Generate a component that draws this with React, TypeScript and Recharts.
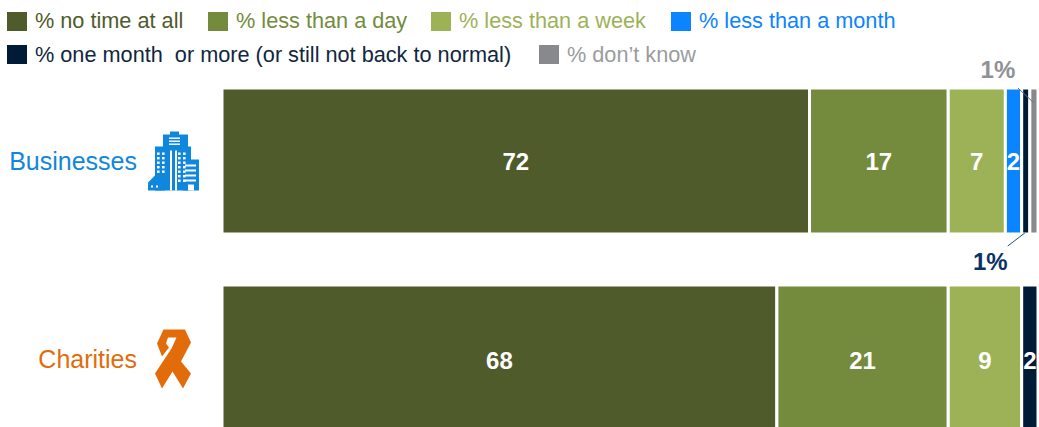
import React from 'react';
import { BarChart, Bar, XAxis, YAxis, LabelList, Legend } from 'recharts';

const categories = ['Businesses', 'Charities'];
const noTime = [72, 68];
const lessDay = [17, 21];
const lessWeek = [7, 9];
const lessMonth = [2, 0];
const oneMonth = [1, 2];
const dontKnow = [1, 0];

const seriesNames = [
  '% no time at all',
  '% less than a day',
  '% less than a week',
  '% less than a month',
  '% one month  or more (or still not back to normal)',
  "% don\u2019t know",
];
const seriesColors = ['#4F5B2B', '#748B3D', '#9DB257', '#0A84FF', '#001B36', '#87898C'];
const legendTextColors = ['#4F5B2B', '#748B3D', '#9DB257', '#0A84FF', '#0F2740', '#9A9C9F'];
const categoryColors = ['#0F87DC', '#E36C0A'];

const rows = categories.map((name, i) => ({
  name,
  s0: noTime[i],
  s1: lessDay[i],
  s2: lessWeek[i],
  s3: lessMonth[i] || null,
  s4: oneMonth[i],
  s5: dontKnow[i] || null,
}));

const FONT = '"Liberation Sans", Arial, sans-serif';
const legendSlots = [
  { x: 7, y: 12 },
  { x: 208, y: 12 },
  { x: 431, y: 12 },
  { x: 671, y: 12 },
  { x: 7, y: 45 },
  { x: 539, y: 45 },
];

const LegendBox = () => (
  <div style={{ position: 'absolute', left: 0, top: 0, width: 1039, height: 80, fontFamily: FONT }}>
    {seriesNames.map((n, i) => (
      <div key={n} style={{ position: 'absolute', left: legendSlots[i].x, top: legendSlots[i].y }}>
        <div style={{ position: 'absolute', left: 0, top: 0, width: 20, height: 19, background: seriesColors[i] }} />
        <div style={{ position: 'absolute', left: 28, top: i > 3 ? -2 : -3, fontSize: 21.7, lineHeight: '24px', whiteSpace: 'pre', color: legendTextColors[i] }}>{n}</div>
      </div>
    ))}
  </div>
);

const Building = ({ x, y, c }: any) => {
  const wins: React.ReactNode[] = [];
  for (let r = 0; r < 7; r++) {
    for (const cx of [10, 15, 31, 36]) {
      wins.push(<rect key={`a${r}${cx}`} x={cx - 1} y={21 + r * 4.5} width={2.6} height={2.4} fill="#fff" />);
    }
  }
  for (let r = 0; r < 3; r++) {
    wins.push(<rect key={`t${r}`} x={21} y={6 + r * 3} width={11} height={1.4} fill="#fff" />);
  }
  for (let r = 0; r < 4; r++) {
    wins.push(<rect key={`b${r}`} x={37} y={33 + r * 5} width={11} height={2} fill="#fff" />);
  }
  return (
    <g transform={`translate(${x},${y})`} fill={c}>
      <rect x={15} y={3} width={25} height={13} />
      <rect x={22} y={0} width={9} height={4} />
      <rect x={7} y={15} width={36} height={44} />
      <rect x={22} y={19} width={2} height={40} fill="#fff" />
      <rect x={27} y={19} width={2} height={40} fill="#fff" />
      <rect x={35} y={28} width={16} height={31} />
      {wins}
      <rect x={40} y={53} width={6} height={6} fill="#fff" />
      <path d="M0 58 L0 51 L8 43 L17 43 L17 59 L0 59 Z" />
      <rect x={3} y={54} width={2} height={2} fill="#fff" />
      <rect x={8} y={54} width={2} height={2} fill="#fff" />
    </g>
  );
};

const Ribbon = ({ x, y, c }: any) => (
  <path
    transform={`translate(${x},${y})`}
    fill={c}
    d="M8.5 0 L30 0 L36 13 L26 32 L36 44 L28 59 L17.500 42 L7 59 L0 44 L16.500 19 L21.500 8 L13 8 L11 14 L14 18 L7 27 L2 14 Z"
  />
);

const CategoryTick = ({ x, y, payload, index }: any) => {
  const c = categoryColors[index];
  return (
    <g>
      <text x={137} y={y + 9 + index} textAnchor="end" fontFamily={FONT} fontSize={25} fill={c}>
        {payload.value}
      </text>
      {index === 0 ? <Building x={148} y={y - 29} c={c} /> : <Ribbon x={155} y={y - 28} c={c} />}
    </g>
  );
};

const ValueLabel = (big: 'none' | 'down' | 'up') => (props: any) => {
  const { x, y, width, height, value, index } = props;
  if (value == null) return null;
  if (value === 1 && big === 'down') {
    const cx = x + width / 2;
    const by = y + height;
    return (
      <g>
        <line x1={cx - 1} y1={by - 1} x2={cx - 18} y2={by + 12} stroke="#1F4E79" strokeWidth={1} />
        <text x={cx - 35.5} y={by + 36} textAnchor="middle" fontFamily={FONT} fontWeight={700} fontSize={24} fill="#0B3263">1%</text>
      </g>
    );
  }
  if (value === 1 && big === 'up') {
    const cx = x + width / 2;
    return (
      <g>
        <line x1={cx - 1} y1={y + 14} x2={cx - 16} y2={y} stroke="#5F6F80" strokeWidth={1} />
        <text x={cx - 36} y={y - 10} textAnchor="middle" fontFamily={FONT} fontWeight={700} fontSize={24} fill="#8F9194">1%</text>
      </g>
    );
  }
  return (
    <text x={x + width / 2} y={y + height / 2 + 9 + index * 2} textAnchor="middle" fontFamily={FONT} fontWeight={700} fontSize={24} fill="#fff">
      {value}
    </text>
  );
};

const keys = ['s0', 's1', 's2', 's3', 's4', 's5'];
const modes: ('none' | 'down' | 'up')[] = ['none', 'none', 'none', 'none', 'down', 'up'];

export default function App() {
  return (
    <div style={{ position: 'absolute', left: 0, top: 0, width: 1039, height: 427, overflow: 'hidden', background: '#fff' }}>
      <BarChart
        width={1039}
        height={550}
        data={rows}
        layout="vertical"
        barSize={146}
        margin={{ top: 62, right: 1, bottom: 14, left: 0 }}
      >
        <XAxis type="number" domain={[0, 100]} hide />
        <YAxis type="category" dataKey="name" width={222} axisLine={false} tickLine={false} tick={<CategoryTick />} interval={0} />
        <Legend content={<LegendBox />} wrapperStyle={{ position: 'absolute', left: 0, top: 0, width: 1039, height: 80 }} />
        {keys.map((k, i) => (
          <Bar key={k} dataKey={k} name={seriesNames[i]} stackId="a" fill={seriesColors[i]} stroke="#fff" strokeWidth={3} isAnimationActive={false}>
            <LabelList dataKey={k} content={ValueLabel(modes[i])} />
          </Bar>
        ))}
      </BarChart>
    </div>
  );
}
